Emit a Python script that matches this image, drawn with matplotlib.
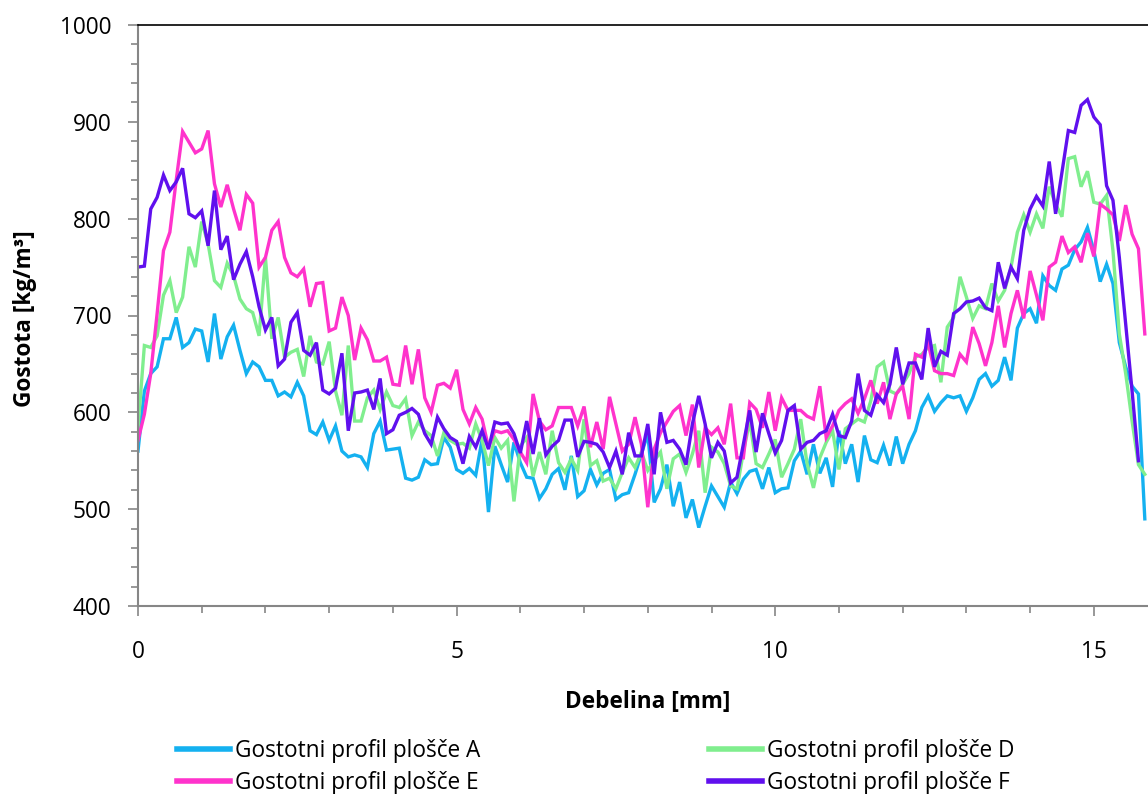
import numpy as np
import matplotlib
matplotlib.use("Agg")
import matplotlib.pyplot as plt
from matplotlib.ticker import MultipleLocator

plt.rcParams['font.family'] = ['Open Sans', 'DejaVu Sans']

step_mm = 0.1

plosca_A = [560, 622, 640, 647, 676, 676, 698, 667, 672, 686, 684, 652, 702, 655, 678, 690, 664, 640, 652, 647, 633, 633, 617, 621, 616, 631, 617, 581,
            577, 590, 571, 586, 560, 554, 556, 554, 543, 578, 591, 561, 562, 563, 532, 530, 533, 551, 546, 547, 574, 564, 541, 537, 542,
            535, 572, 497, 565, 546, 528, 569, 548, 533, 532, 511, 521, 536, 542, 520, 555, 513, 519, 541, 525, 537, 541, 510, 515, 517, 536, 557,
            578, 507, 521, 546, 503, 528, 491, 510, 481, 503, 524, 513, 502, 528, 516, 531, 539, 541, 521, 543, 517, 521, 522, 550, 560, 536,
            567, 537, 553, 523, 581, 547, 567, 528, 576, 551, 548, 566, 545, 575, 547, 567, 581, 605, 617, 601, 610, 617, 615, 617, 601,
            615, 634, 640, 627, 633, 657, 633, 687, 702, 707, 692, 741, 731, 726, 748, 752, 768, 776, 791, 767, 735, 753, 733, 672, 647, 627, 619, 490]

plosca_D = [584, 669, 667, 679, 721, 736, 703, 719, 771, 750, 797, 774, 736, 729, 754, 741, 717, 707, 703, 679, 760, 676, 698, 657, 662, 665, 637, 679,
            652, 650, 673, 622, 597, 669, 591, 591, 615, 623, 603, 621, 607, 605, 614, 576, 590, 581, 576, 555, 579, 571, 567, 568, 563,
            588, 571, 545, 574, 563, 571, 508, 565, 574, 534, 559, 536, 581, 548, 538, 552, 540, 593, 545, 550, 529, 532, 521, 538, 553, 543,
            559, 540, 550, 559, 521, 552, 557, 538, 557, 581, 517, 564, 559, 547, 524, 521, 559, 591, 547, 543, 557, 572, 533, 547, 562, 593, 547,
            522, 553, 569, 581, 541, 583, 588, 593, 590, 612, 647, 652, 622, 619, 629, 640, 657, 660, 667, 669, 631, 688, 698, 740, 719,
            697, 710, 707, 733, 715, 726, 750, 786, 804, 786, 805, 790, 833, 815, 802, 862, 864, 833, 849, 817, 815, 824, 767, 681, 640, 591, 546, 536]

plosca_E = [571, 598, 640, 702, 767, 786, 840, 890, 879, 868, 872, 891, 836, 812, 835, 810, 788, 825, 816, 750, 760, 788, 797, 760, 744, 740, 748, 709,
            733, 734, 684, 687, 719, 700, 654, 687, 675, 653, 653, 657, 629, 628, 669, 629, 665, 615, 600, 628, 630, 625, 644, 603, 588,
            605, 593, 564, 581, 579, 581, 572, 559, 548, 619, 591, 582, 586, 605, 605, 605, 586, 606, 564, 590, 562, 616, 588, 560, 567, 595, 567,
            502, 562, 579, 590, 601, 607, 576, 608, 543, 584, 577, 584, 567, 609, 553, 553, 610, 603, 584, 621, 581, 615, 602, 602, 602, 596,
            593, 627, 574, 586, 602, 609, 614, 599, 614, 633, 609, 631, 593, 619, 627, 593, 660, 657, 671, 643, 640, 640, 638, 660, 652,
            688, 671, 648, 672, 710, 667, 702, 726, 697, 746, 721, 695, 750, 755, 782, 765, 771, 755, 785, 761, 815, 810, 804, 777, 814, 784, 769, 681]

plosca_F = [750, 751, 810, 822, 845, 829, 838, 852, 805, 801, 808, 772, 829, 768, 782, 737, 753, 766, 740, 709, 685, 698, 648, 655, 693, 703, 664, 659,
            672, 623, 619, 625, 661, 581, 620, 621, 623, 603, 635, 578, 582, 597, 600, 604, 598, 578, 567, 595, 583, 574, 570, 547, 575,
            564, 581, 562, 590, 588, 589, 578, 558, 591, 557, 594, 556, 565, 571, 592, 592, 554, 570, 569, 567, 559, 543, 560, 536, 579, 555,
            555, 588, 536, 600, 569, 571, 562, 546, 588, 617, 588, 553, 569, 560, 527, 533, 567, 602, 559, 599, 578, 558, 571, 602, 607, 562, 569,
            571, 578, 581, 598, 576, 574, 591, 640, 602, 597, 618, 610, 629, 667, 629, 651, 651, 634, 687, 647, 663, 659, 702, 707, 714,
            715, 718, 708, 705, 755, 728, 750, 738, 788, 810, 823, 813, 859, 805, 848, 891, 889, 917, 923, 905, 897, 834, 819, 760, 691, 622, 550]

labels = ["Gostotni profil plošče A", "Gostotni profil plošče D",
          "Gostotni profil plošče E", "Gostotni profil plošče F"]
colors = ["#14B1F0", "#80EE8E", "#FF33CC", "#6010EE"]
series = [plosca_A, plosca_D, plosca_E, plosca_F]

fig = plt.figure(figsize=(11.48, 7.94), dpi=100)
ax = fig.add_axes([138/1148, 1 - 606/794, 1 - 138/1148, (606 - 25)/794])

handles = []
for vals, lab, col in zip(series, labels, colors):
    x = np.arange(len(vals)) * step_mm
    h, = ax.plot(x, vals, color=col, lw=2.4, label=lab, solid_joinstyle='miter')
    handles.append(h)

ax.set_xlim(0, 15.85)
ax.set_ylim(400, 1000)
ax.xaxis.set_major_locator(MultipleLocator(5))
ax.xaxis.set_minor_locator(MultipleLocator(1))
ax.yaxis.set_major_locator(MultipleLocator(100))
ax.yaxis.set_minor_locator(MultipleLocator(20))

gray = "#868686"
ax.spines['right'].set_visible(False)
ax.spines['top'].set_color('black')
ax.spines['top'].set_linewidth(1.2)
for s in ['left', 'bottom']:
    ax.spines[s].set_color(gray)
    ax.spines[s].set_linewidth(1.5)

fs = 16.3
ax.tick_params(axis='both', which='major', direction='out', length=7, width=1.2,
               color=gray, labelsize=fs, labelcolor='black')
ax.tick_params(axis='both', which='minor', direction='out', length=5, width=1.2, color=gray)
ax.tick_params(axis='x', which='major', pad=17.5)
ax.tick_params(axis='y', which='major', pad=12)

fig.text(25/1148, 1 - 319/794, "Gostota [kg/m³]", rotation=90, ha='center', va='center',
         fontsize=fs, fontweight='bold')
fig.text(648/1148, 1 - 702/794, "Debelina [mm]", ha='center', va='center',
         fontsize=fs, fontweight='bold')

order = [0, 2, 1, 3]
leg = fig.legend([handles[i] for i in order], [labels[i] for i in order],
                 ncol=2, loc='center left', bbox_to_anchor=(177/1148, 1 - 767/794),
                 frameon=False, fontsize=fs, handlelength=2.35, handletextpad=0.22,
                 columnspacing=10.1, labelspacing=0.33, borderaxespad=0, borderpad=0)
for line in leg.get_lines():
    line.set_linewidth(4)

fig.savefig("out.png", dpi=100)
